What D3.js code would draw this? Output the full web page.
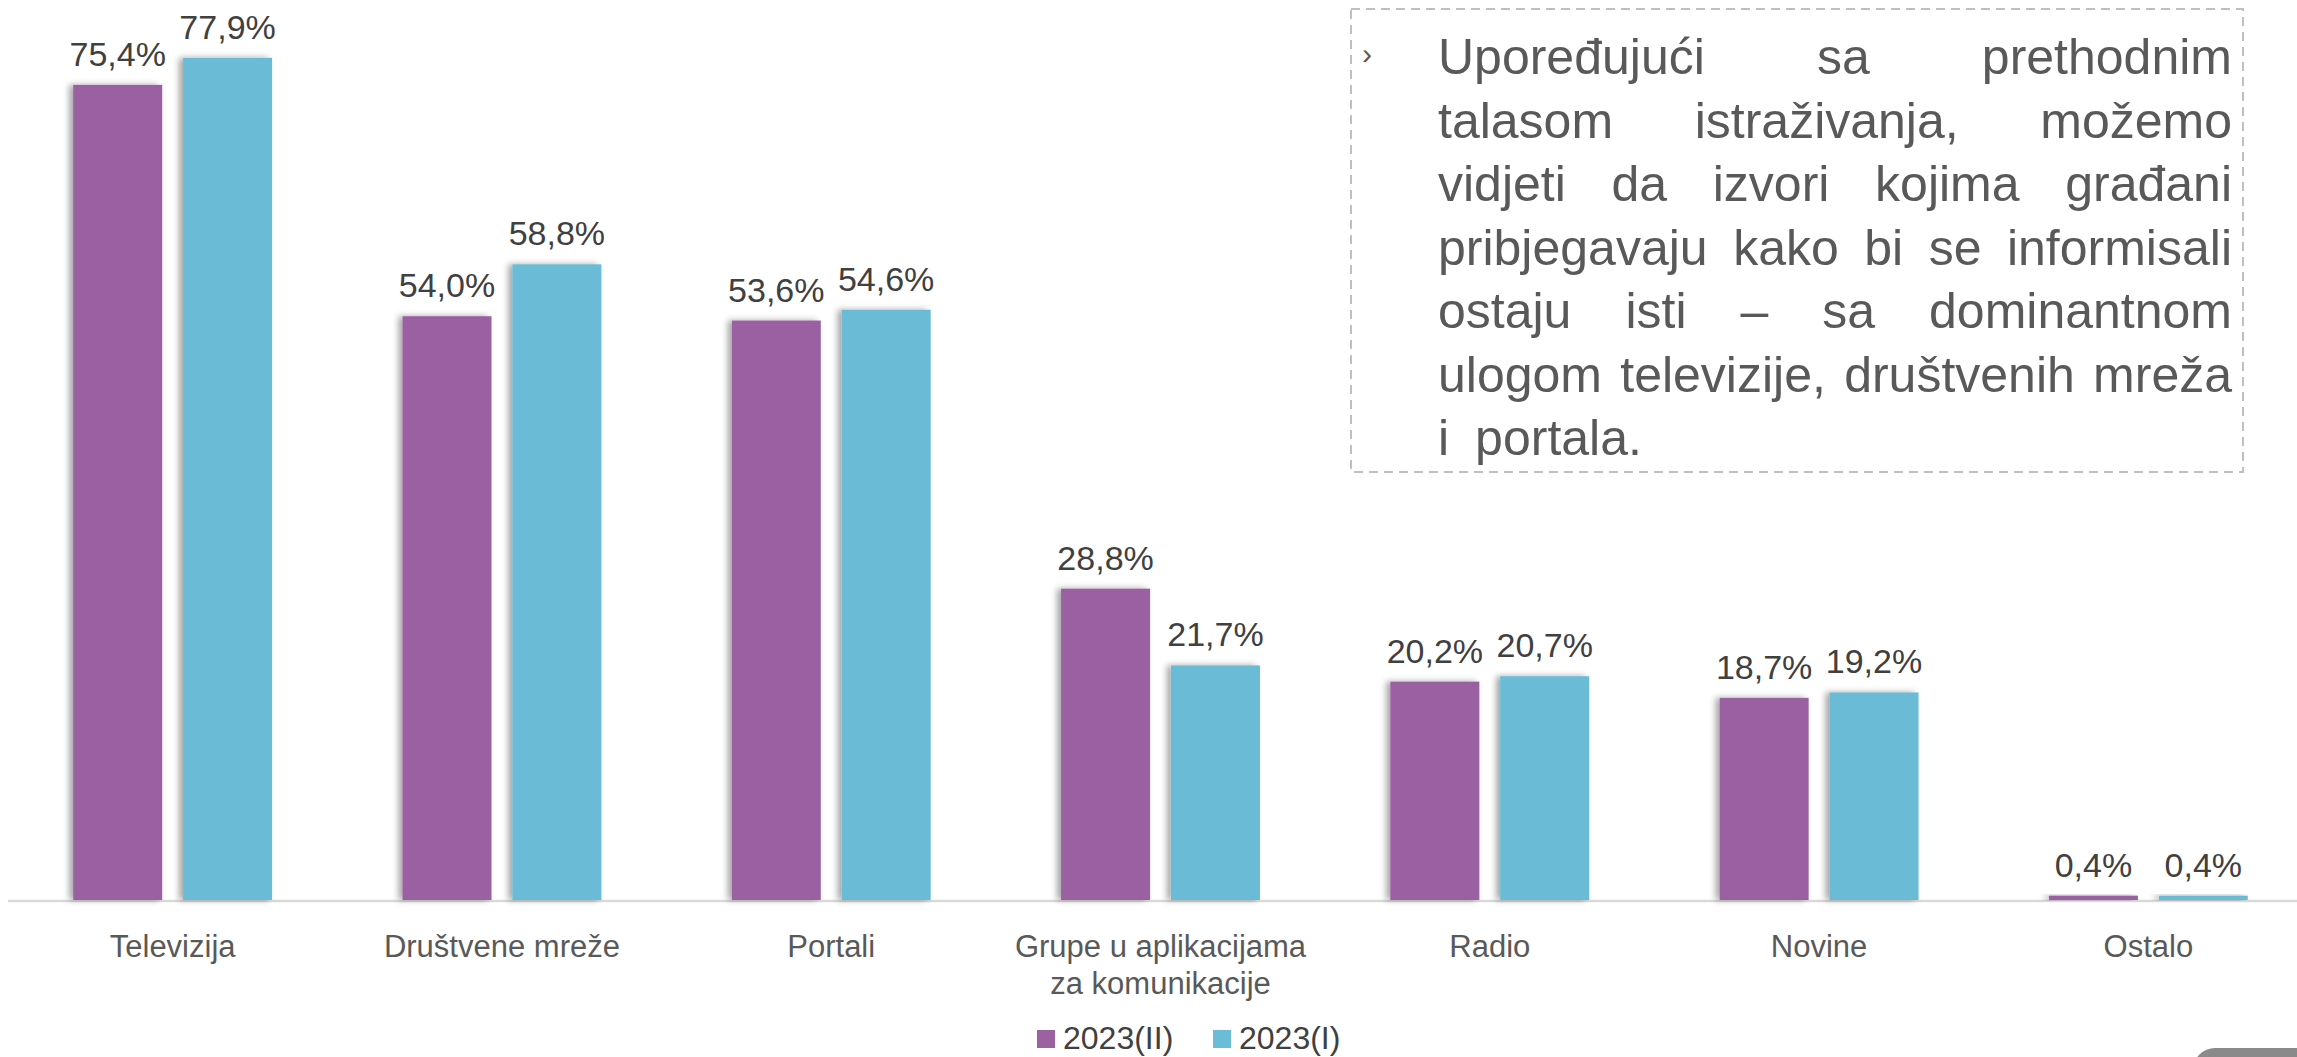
<!DOCTYPE html>
<html>
<head>
<meta charset="utf-8">
<script src="https://cdn.jsdelivr.net/npm/d3@7"></script>
<style>
    body { margin: 0; background: #fff; }
    svg { display: block; }
</style>
</head>
<body>
<div id="chart"></div>
<script>
// data
const categories = ["Televizija", "Društvene mreže", "Portali", "Grupe u aplikacijama\nza komunikacije", "Radio", "Novine", "Ostalo"];
const seriesNames = ["2023(II)", "2023(I)"];
const values2023II = [75.4, 54.0, 53.6, 28.8, 20.2, 18.7, 0.4];
const values2023I = [77.9, 58.8, 54.6, 21.7, 20.7, 19.2, 0.4];
const seriesColors = ["#9b61a1", "#6bbcd6"];

const noteLines = [
    "Upoređujući sa prethodnim",
    "talasom istraživanja, možemo",
    "vidjeti da izvori kojima građani",
    "pribjegavaju kako bi se informisali",
    "ostaju isti – sa dominantnom",
    "ulogom televizije, društvenih mreža",
    "i  portala."
];

const W = 2297, H = 1057;

let svg = d3.select("#chart")
    .append("svg")
    .attr("width", W)
    .attr("height", H);

// soft shadow for the bars
let defs = svg.append("defs");
defs.append("filter")
    .attr("id", "shadow")
    .attr("x", "-20%").attr("y", "-20%")
    .attr("width", "140%").attr("height", "140%")
    .append("feDropShadow")
    .attr("dx", -4).attr("dy", 0)
    .attr("stdDeviation", 3)
    .attr("flood-color", "#000")
    .attr("flood-opacity", 0.35);

let rows = categories.map((c, i) => ({cat: c, vals: [values2023II[i], values2023I[i]]}));

// scales
let x0 = d3.scaleBand()
    .domain(categories)
    .range([8, 2313])
    .paddingInner(0.396)
    .paddingOuter(0.198);

let x1 = d3.scaleBand()
    .domain(seriesNames)
    .range([0, x0.bandwidth()])
    .paddingInner(0.19);

let y = d3.scaleLinear()
    .domain([0, 83.25])
    .range([900, 0]);

let color = d3.scaleOrdinal()
    .domain(seriesNames)
    .range(seriesColors);

let locale = d3.formatLocale({decimal: ",", thousands: ".", grouping: [3], currency: ["", ""]});
let fmt = v => locale.format(".1f")(v) + "%";

// x axis: light line + category labels
let xAxis = svg.append("g")
    .attr("class", "axis x-axis")
    .attr("transform", "translate(0," + 901 + ")")
    .call(d3.axisBottom(x0).tickSize(0).tickSizeOuter(0));

xAxis.select(".domain")
    .attr("stroke", "#d9d9d9")
    .attr("stroke-width", 2.5)
    .attr("d", "M8,0H" + W);

xAxis.selectAll(".tick text").each(function (d) {
    let t = d3.select(this);
    t.text(null)
        .attr("y", 56)
        .attr("dy", null)
        .attr("fill", "#595959")
        .style("font-family", "'Liberation Sans', Arial, sans-serif")
        .style("font-size", "31px");
    d.split("\n").forEach((line, k) => {
        t.append("tspan")
            .attr("x", 0)
            .attr("y", 56 + k * 37)
            .text(line);
    });
});

// bars
let groups = svg.append("g")
    .selectAll("g.group")
    .data(rows)
    .enter()
    .append("g")
    .attr("class", "group")
    .attr("transform", d => "translate(" + x0(d.cat) + ",0)");

let cells = groups.selectAll("g.cell")
    .data(d => d.vals.map((v, k) => ({key: seriesNames[k], value: v})))
    .enter()
    .append("g")
    .attr("class", "cell");

cells.append("rect")
    .attr("x", d => x1(d.key))
    .attr("y", d => y(d.value))
    .attr("width", x1.bandwidth())
    .attr("height", d => y(0) - y(d.value))
    .attr("fill", d => color(d.key))
    .attr("filter", "url(#shadow)");

cells.append("text")
    .attr("x", d => x1(d.key) + x1.bandwidth() / 2)
    .attr("y", d => y(d.value) - 19)
    .attr("text-anchor", "middle")
    .attr("fill", "#404040")
    .style("font-family", "'Liberation Sans', Arial, sans-serif")
    .style("font-size", "34px")
    .text(d => fmt(d.value));

// legend (kept just inside the bottom edge)
let legend = svg.append("g")
    .attr("class", "legend")
    .attr("transform", "translate(1037,1030)");

let legendX = [0, 176];
let item = legend.selectAll("g")
    .data(seriesNames)
    .enter()
    .append("g")
    .attr("transform", (d, i) => "translate(" + legendX[i] + ",0)");

item.append("rect")
    .attr("width", 18)
    .attr("height", 18)
    .attr("fill", d => color(d));

item.append("text")
    .attr("x", 26)
    .attr("y", 19)
    .attr("fill", "#404040")
    .style("font-family", "'Liberation Sans', Arial, sans-serif")
    .style("font-size", "32px")
    .text(d => d);

// note box with justified text
let box = svg.append("g").attr("class", "note");
box.append("rect")
    .attr("x", 1351).attr("y", 9)
    .attr("width", 892).attr("height", 463)
    .attr("fill", "#fff")
    .attr("stroke", "#bfbfbf")
    .attr("stroke-width", 2)
    .attr("stroke-dasharray", "9,6");

box.append("text")
    .attr("x", 1362).attr("y", 64)
    .attr("fill", "#595959")
    .style("font-family", "'Liberation Sans', Arial, sans-serif")
    .style("font-size", "30px")
    .text("›");

let left = 1438, right = 2232;
noteLines.forEach((line, i) => {
    let yy = 74 + i * 63.5;
    let words = line.split(" ");
    let last = i === noteLines.length - 1;
    let tmp = [];
    let wsum = 0;
    words.forEach(w => {
        let t = box.append("text")
            .attr("y", yy)
            .attr("fill", "#595959")
            .style("font-family", "'Liberation Sans', Arial, sans-serif")
            .style("font-size", "50px")
            .text(w);
        let len = w === "" ? 0 : t.node().getComputedTextLength();
        tmp.push({t: t, len: len});
        wsum += len;
    });
    let gap = last ? 13 : (right - left - wsum) / Math.max(1, words.length - 1);
    let xx = left;
    tmp.forEach(o => {
        o.t.attr("x", xx);
        xx += o.len + gap;
    });
});

// grey corner shape at the bottom right
svg.append("rect")
    .attr("x", 2193).attr("y", 1048)
    .attr("width", 140).attr("height", 60)
    .attr("rx", 22)
    .attr("fill", "#8a8a8a");
</script>
</body>
</html>
